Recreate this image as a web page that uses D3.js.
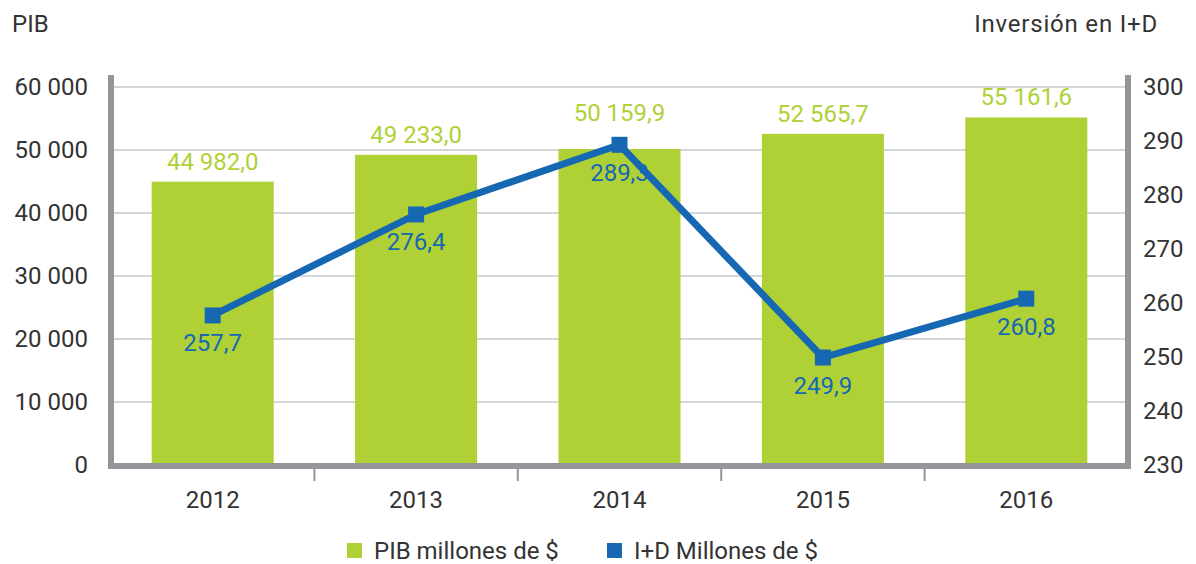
<!DOCTYPE html>
<html>
<head>
<meta charset="utf-8">
<script src="https://cdn.jsdelivr.net/npm/d3@7"></script>
<style>
  body { margin: 0; background: #fff; }
  text { font-family: Roboto, "DejaVu Sans", sans-serif; }
</style>
</head>
<body>
<svg class="chart"></svg>
<script>
var width = 1196, height = 564;

// data
var years = ["2012", "2013", "2014", "2015", "2016"];
var pib = [44982.0, 49233.0, 50159.9, 52565.7, 55161.6];
var inversion = [257.7, 276.4, 289.3, 249.9, 260.8];
var leftTicks = [0, 10000, 20000, 30000, 40000, 50000, 60000];
var rightTicks = [230, 240, 250, 260, 270, 280, 290, 300];
var seriesNames = ["PIB millones de $", "I+D Millones de $"];

var green = "#b0d136", blue = "#1668b2", grey = "#939598", ink = "#333";

var es = d3.formatLocale({decimal: ",", thousands: " ", grouping: [3], currency: ["", "$"]});
var fmtInt = es.format(",d"), fmtDec = es.format(",.1f");

var x = d3.scaleBand().domain(years).range([111, 1128]).paddingInner(0.4).paddingOuter(0.2);
var yL = d3.scaleLinear().domain([0, 60000]).range([465, 87]);
var yR = d3.scaleLinear().domain([230, 300]).range([465, 87]);
var cx = d => x(d) + x.bandwidth() / 2;

var svg = d3.select(".chart").attr("width", width).attr("height", height);

// grid
svg.append("g").selectAll("line")
  .data(leftTicks.slice(1))
  .join("line")
    .attr("x1", 114).attr("x2", 1125)
    .attr("y1", d => yL(d)).attr("y2", d => yL(d))
    .attr("stroke", "#d5d6d8").attr("stroke-width", 2);

// bars
svg.append("g").selectAll("rect")
  .data(pib)
  .join("rect")
    .attr("x", (d, i) => x(years[i]))
    .attr("width", x.bandwidth())
    .attr("y", d => yL(d))
    .attr("height", d => yL(0) - yL(d))
    .attr("fill", green);

// bar labels sit above the bar, and above the line marker when it is higher
svg.append("g").selectAll("text")
  .data(pib)
  .join("text")
    .attr("x", (d, i) => cx(years[i]))
    .attr("y", (d, i) => Math.min(yL(d) - 12, yR(inversion[i]) - 24))
    .attr("text-anchor", "middle")
    .attr("font-size", 24)
    .attr("fill", green)
    .text(d => fmtDec(d));

// frame
var frame = svg.append("g").attr("stroke", grey).attr("stroke-width", 6).attr("fill", "none");
frame.append("path").attr("d", "M111,75V466H1128V75");
frame.selectAll(".tick")
  .data(years.slice(1))
  .join("line")
    .attr("stroke-width", 2)
    .attr("x1", d => x(d) - x.step() * x.paddingInner() / 2)
    .attr("x2", d => x(d) - x.step() * x.paddingInner() / 2)
    .attr("y1", 469).attr("y2", 481);

// line
var line = d3.line()
  .x((d, i) => cx(years[i]))
  .y(d => yR(d));

svg.append("path")
  .datum(inversion)
  .attr("d", line)
  .attr("fill", "none")
  .attr("stroke", blue)
  .attr("stroke-width", 7)
  .attr("stroke-linejoin", "miter");

svg.append("g").selectAll("rect")
  .data(inversion)
  .join("rect")
    .attr("x", (d, i) => cx(years[i]) - 8)
    .attr("y", d => yR(d) - 8)
    .attr("width", 16).attr("height", 16)
    .attr("fill", blue);

svg.append("g").selectAll("text")
  .data(inversion)
  .join("text")
    .attr("x", (d, i) => cx(years[i]))
    .attr("y", d => yR(d) + 36)
    .attr("text-anchor", "middle")
    .attr("font-size", 24)
    .attr("fill", blue)
    .text(d => fmtDec(d));

// axes labels
svg.append("g").selectAll("text")
  .data(leftTicks)
  .join("text")
    .attr("x", 88).attr("y", d => yL(d))
    .attr("dy", "0.35em")
    .attr("text-anchor", "end")
    .attr("font-size", 24).attr("fill", ink)
    .text(d => fmtInt(d));

svg.append("g").selectAll("text")
  .data(rightTicks)
  .join("text")
    .attr("x", 1143).attr("y", d => yR(d))
    .attr("dy", "0.35em")
    .attr("font-size", 24).attr("fill", ink)
    .text(d => d);

svg.append("g").selectAll("text")
  .data(years)
  .join("text")
    .attr("x", d => cx(d))
    .attr("y", 500).attr("dy", "0.35em")
    .attr("text-anchor", "middle")
    .attr("font-size", 24).attr("fill", ink)
    .text(d => d);

svg.append("text").attr("x", 12).attr("y", 24).attr("dy", "0.35em")
  .attr("font-size", 24).attr("fill", ink).text("PIB");
svg.append("text").attr("x", 1158).attr("y", 24).attr("dy", "0.35em")
  .attr("text-anchor", "end").attr("letter-spacing", 0.8)
  .attr("font-size", 24).attr("fill", ink).text("Inversión en I+D");

// legend
var legend = svg.append("g").selectAll("g")
  .data(seriesNames)
  .join("g")
    .attr("transform", (d, i) => `translate(${[347, 607][i]},551)`);
legend.append("rect")
  .attr("y", -8).attr("width", 15).attr("height", 15)
  .attr("fill", (d, i) => [green, blue][i]);
legend.append("text")
  .attr("x", 27).attr("dy", "0.35em")
  .attr("font-size", 24).attr("fill", ink)
  .text(d => d);
</script>
</body>
</html>
